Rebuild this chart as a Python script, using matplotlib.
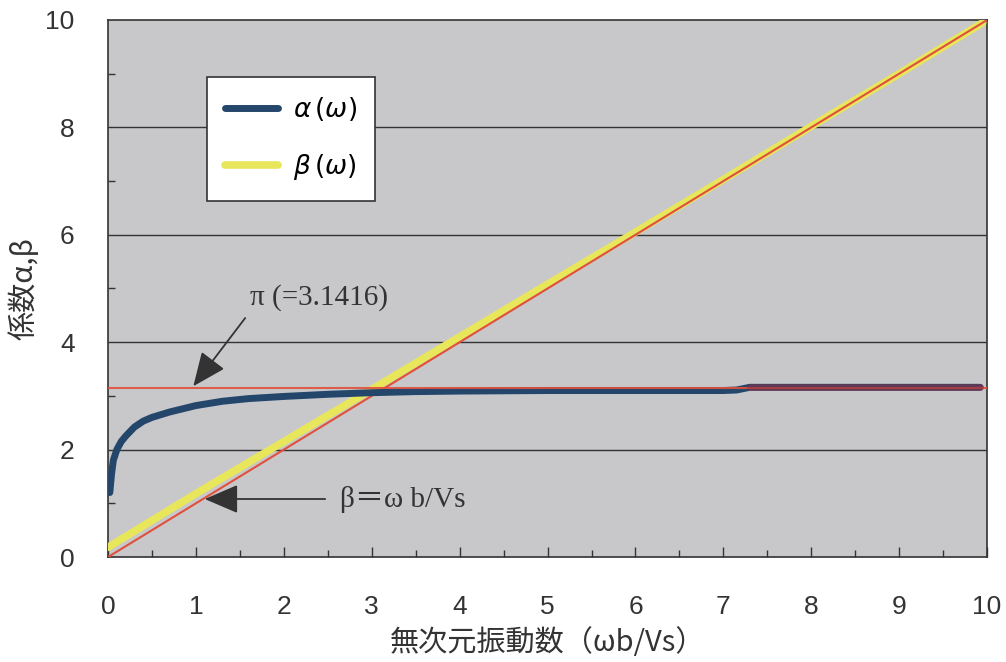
import matplotlib
matplotlib.use("Agg")

import matplotlib.pyplot as plt
from matplotlib.ticker import MultipleLocator

# ================= DATA =================
# alpha(omega)
ALPHA_X = [0.02, 0.04, 0.06, 0.10, 0.15, 0.20, 0.30, 0.40, 0.50, 0.70,
           1.00, 1.30, 1.60, 2.00, 2.50, 3.00, 3.50, 4.00, 5.00, 6.00,
           7.00, 7.15, 7.30, 8.00, 9.00, 9.92]
ALPHA_Y = [1.20, 1.55, 1.80, 2.00, 2.15, 2.25, 2.42, 2.53, 2.60, 2.70,
           2.82, 2.90, 2.95, 2.99, 3.03, 3.06, 3.08, 3.09, 3.10, 3.10,
           3.10, 3.11, 3.16, 3.16, 3.16, 3.16]

# beta(omega)
BETA_X = [0.0, 1.0, 2.0, 3.0, 4.0, 5.0, 6.0, 7.0, 8.0, 9.0, 9.95]
BETA_Y = [0.18, 1.18, 2.15, 3.12, 4.10, 5.08, 6.05, 7.03, 8.02, 9.00, 9.95]

# reference lines
REF_X = [0.0, 10.0]
PI_VAL = 3.1416

X_TICKS = list(range(0, 11))
Y_TICKS = [0, 2, 4, 6, 8, 10]
# =======================================

BLUE = "#24466b"
YELLOW = "#e8e65a"
RED = "#e0503c"
BG = "#c8c8cb"
INK = "#333333"

CJK = ["Noto Sans CJK JP", "DejaVu Sans"]
SANS = ["Liberation Sans", "DejaVu Sans"]
SERIF = ["Liberation Serif", "Noto Sans CJK JP", "DejaVu Serif"]

ARROW = dict(arrowstyle="-|>,head_length=0.7,head_width=0.3", color=INK,
             lw=1.3, mutation_scale=30, shrinkA=0, shrinkB=0)


def main():
    fig = plt.figure(figsize=(10.06, 6.62), dpi=100)
    fig.patch.set_facecolor("white")
    ax = fig.add_axes([0.1074, 0.1586, 0.8738, 0.8112])
    ax.set_facecolor(BG)

    # horizontal grid
    for yv in Y_TICKS[1:-1]:
        ax.axhline(yv, color=INK, lw=1.0, zorder=1)

    # beta curve with the red y = x line on top
    ax.plot(BETA_X, BETA_Y, color=YELLOW, lw=5.5, solid_capstyle="round",
            zorder=3, label=r"$\beta\,(\omega)$")
    ax.plot(REF_X, REF_X, color=RED, lw=1.5, zorder=4)

    # alpha curve
    ax.plot(ALPHA_X, ALPHA_Y, color=BLUE, lw=5, solid_capstyle="round",
            zorder=5, label=r"$\alpha\,(\omega)$")
    # red pi line
    ax.plot(REF_X, [PI_VAL, PI_VAL], color=RED, lw=1.5, zorder=6, alpha=0.9)
    # purplish tint where alpha merges into pi
    tail_x = [x for x in ALPHA_X if x >= 7.3]
    tail_y = ALPHA_Y[len(ALPHA_X) - len(tail_x):]
    ax.plot(tail_x, tail_y, color="#8a3048", lw=5, alpha=0.55,
            solid_capstyle="round", zorder=7)

    ax.set_xlim(0, 10)
    ax.set_ylim(0, 10)
    ax.set_xticks(X_TICKS)
    ax.set_yticks(Y_TICKS)
    ax.xaxis.set_minor_locator(MultipleLocator(0.5))
    ax.yaxis.set_minor_locator(MultipleLocator(1))
    ax.tick_params(which="both", direction="in", color=INK, width=1.0)
    ax.tick_params(which="major", axis="x", length=7, pad=27,
                   labelsize=19, labelcolor=INK)
    ax.tick_params(which="major", axis="y", length=0, pad=24,
                   labelsize=19, labelcolor=INK)
    ax.tick_params(which="minor", length=5)
    for lab in ax.get_xticklabels() + ax.get_yticklabels():
        lab.set_family(SANS)
    for sp in ax.spines.values():
        sp.set_color(INK)
        sp.set_linewidth(1.2)

    ax.set_xlabel("無次元振動数（ωb/Vs）", family=CJK, fontsize=21,
                  color=INK, labelpad=7)
    ax.set_ylabel("係数α,β", family=CJK, fontsize=21, color=INK,
                  labelpad=4)

    # legend
    handles, labels = ax.get_legend_handles_labels()
    leg = ax.legend(handles[::-1], labels[::-1], loc="upper left",
                    bbox_to_anchor=(0.1126, 0.894), borderaxespad=0,
                    frameon=True, fancybox=False, framealpha=1.0,
                    edgecolor=INK, fontsize=19, handlelength=2.0,
                    handletextpad=0.55, labelspacing=1.1, borderpad=0.7)
    leg.get_frame().set_linewidth(1.2)
    leg.set_zorder(10)

    # annotations
    ax.text(1.62, 4.84, "π (=3.1416)", family=SERIF, fontsize=21,
            color=INK, va="center", zorder=11)
    ax.annotate("", xy=(0.97, 3.18), xytext=(1.56, 4.45),
                arrowprops=ARROW, zorder=11)
    ax.text(2.64, 1.08, "β＝ω b/Vs", family=SERIF, fontsize=21,
            color=INK, va="center", zorder=11)
    ax.annotate("", xy=(1.10, 1.08), xytext=(2.47, 1.08),
                arrowprops=ARROW, zorder=11)

    fig.savefig("out.png", dpi=100)
    plt.close(fig)


if __name__ == "__main__":
    main()
